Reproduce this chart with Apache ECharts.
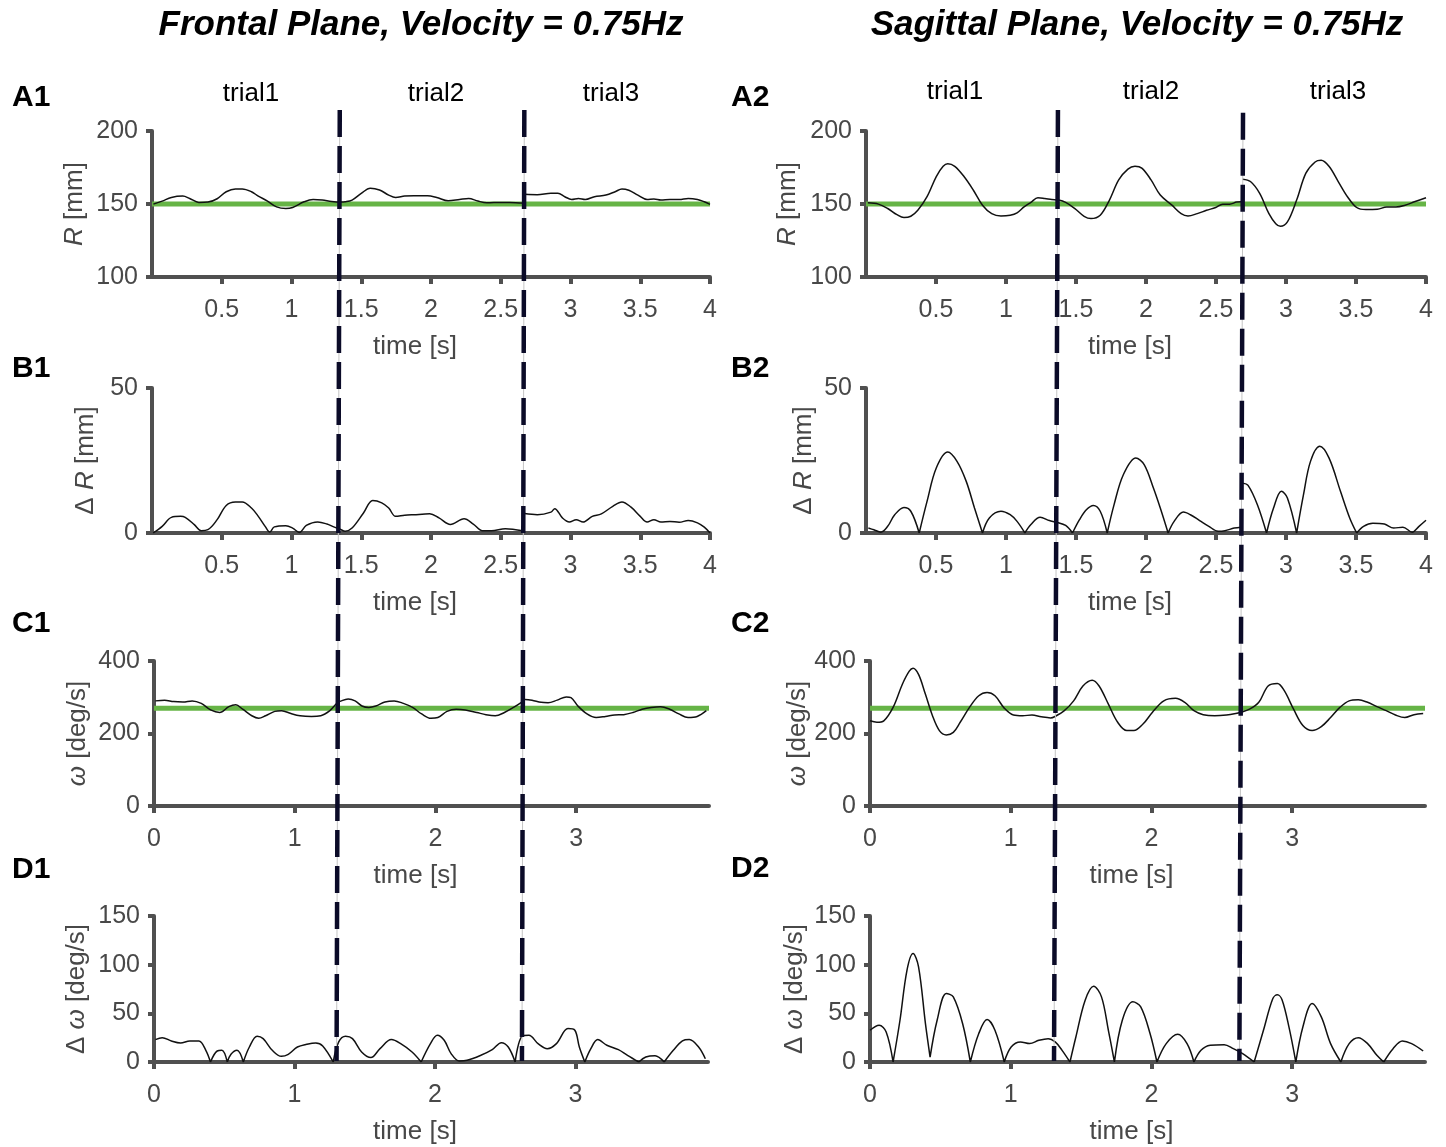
<!DOCTYPE html>
<html>
<head>
<meta charset="utf-8">
<script src="https://cdn.jsdelivr.net/npm/echarts@6/dist/echarts.min.js"></script>
<style>html,body{margin:0;padding:0;background:#fff}#c{width:1446px;height:1147px}</style>
</head>
<body>
<div id="c"></div>
<script>
// ---------------- DATA (time [s], value) ----------------
const a1 = [[0.01,149.9],[0.073,152.0],[0.139,154.5],[0.221,155.4],[0.270,153.8],[0.336,151.1],[0.401,151.3],[0.467,153.6],[0.532,158.4],[0.598,160.3],
 [0.647,160.3],[0.713,158.4],[0.762,155.4],[0.828,152.0],[0.893,148.0],[0.959,146.9],[1.008,147.6],[1.090,151.5],[1.155,153.1],[1.221,152.7],
 [1.287,151.7],[1.352,151.3],[1.385,151.5],[1.434,152.7],[1.500,157.3],[1.565,160.8],[1.631,159.6],[1.697,156.1],[1.746,154.5],[1.811,155.4],
 [1.877,155.7],[1.975,155.7],[2.041,154.5],[2.123,152.2],[2.205,153.1],[2.270,153.8],[2.336,152.0],[2.401,150.8],[2.500,151.1],[2.565,151.1],
 [2.664,150.6],[2.667,null],[2.670,156.6],[2.762,156.4],[2.860,157.3],[2.910,157.3],[2.959,155.0],[3.008,153.1],[3.057,153.8],[3.106,153.1],
 [3.172,155.0],[3.254,156.1],[3.320,158.4],[3.369,160.3],[3.418,159.4],[3.483,156.1],[3.549,153.1],[3.598,153.4],[3.648,152.7],[3.713,153.1],
 [3.779,153.1],[3.844,153.8],[3.910,153.1],[3.959,151.5],[4.0,149.7]];

const b1 = [[0.008,0],[0.073,2.3],[0.139,5.4],[0.205,5.75],[0.238,5.4],[0.303,2.9],[0.352,0.8],[0.401,1.15],[0.467,4.6],[0.532,9.5],
 [0.598,10.7],[0.647,10.7],[0.713,8.6],[0.762,5.75],[0.811,2.3],[0.844,0.35],[0.877,2.1],[0.959,2.5],[1.008,1.7],[1.057,0.2],
 [1.106,2.6],[1.188,3.8],[1.254,3.1],[1.303,2.1],[1.345,1.4],[1.385,0.6],[1.434,1.7],[1.516,6.9],[1.582,11.2],[1.647,10.4],
 [1.697,8.6],[1.746,5.75],[1.811,6.1],[1.877,6.3],[1.991,6.6],[2.057,5.2],[2.139,2.9],[2.237,4.9],[2.303,3.1],[2.369,0.8],
 [2.434,0.8],[2.533,1.5],[2.657,0.8],[2.663,null],[2.670,6.7],[2.762,6.3],[2.860,7.2],[2.887,8.4],[2.942,5.2],[2.992,3.8],
 [3.041,4.6],[3.090,3.8],[3.156,5.75],[3.221,6.6],[3.303,9.2],[3.369,10.7],[3.434,8.9],[3.500,5.75],[3.549,3.8],[3.598,4.6],
 [3.648,3.8],[3.713,4.0],[3.779,3.7],[3.844,4.3],[3.910,3.5],[3.959,2.0],[4.0,0]];

const c1 = [[0.010,290],[0.075,292],[0.140,288],[0.206,287],[0.271,290],[0.336,283],[0.402,265],[0.467,258],[0.532,274],[0.581,279],
 [0.630,267],[0.695,249],[0.744,242],[0.793,249],[0.858,261],[0.907,263],[0.973,255],[1.038,249],[1.119,247],[1.185,249],
 [1.250,263],[1.299,283],[1.331,290],[1.380,295],[1.429,290],[1.478,276],[1.527,272],[1.576,276],[1.641,287],[1.707,290],
 [1.772,283],[1.837,272],[1.902,254],[1.968,242],[2.017,244],[2.082,261],[2.147,267],[2.212,265],[2.294,258],[2.359,252],
 [2.425,249],[2.490,258],[2.555,272],[2.611,286],[2.637,294],[2.686,292],[2.751,286],[2.800,285],[2.865,292],[2.930,301],
 [2.963,299],[3.012,276],[3.077,254],[3.142,244],[3.208,247],[3.273,251],[3.338,252],[3.404,258],[3.469,267],[3.534,272],
 [3.600,274],[3.665,267],[3.730,254],[3.795,244],[3.860,247],[3.925,263]];

const d1 = [[0.010,23],[0.059,25],[0.124,21.6],[0.189,19.6],[0.255,21.6],[0.320,21.6],[0.369,12],[0.402,0],[0.402,null],[0.402,0],
 [0.450,11.3],[0.483,12],[0.522,0],[0.522,null],[0.522,0],[0.548,7.9],[0.591,12],[0.636,0],[0.636,null],[0.636,0],
 [0.679,15.4],[0.734,26.4],[0.777,24],[0.842,12],[0.907,5.8],[0.956,7.9],[1.021,15.4],[1.087,18.2],[1.152,19.6],[1.201,16.5],
 [1.276,0],[1.276,null],[1.276,0],[1.315,20.6],[1.364,26.4],[1.413,24],[1.478,10.3],[1.544,4.5],[1.609,13.7],[1.690,23],
 [1.756,18.9],[1.837,10.3],[1.902,0],[1.902,null],[1.902,0],[1.968,18.9],[2.017,27.5],[2.066,22.3],[2.115,8.6],[2.173,1],
 [2.229,1.7],[2.327,6.9],[2.408,12.7],[2.473,19.9],[2.522,15.4],[2.571,0],[2.571,null],[2.571,0],[2.620,26.4],[2.669,27.5],
 [2.734,18.9],[2.800,13.7],[2.865,18.9],[2.947,34.3],[2.996,32.6],[3.028,15.4],[3.067,0],[3.067,null],[3.067,0],[3.110,13.7],
 [3.159,23],[3.224,17.2],[3.306,12.7],[3.371,6.9],[3.452,0],[3.452,null],[3.452,0],[3.501,5.1],[3.567,6.5],[3.632,0],
 [3.632,null],[3.632,0],[3.697,12],[3.762,21.6],[3.811,23],[3.877,15.4],[3.925,3.4]];

const a2 = [[0.013,150.8],[0.089,149.9],[0.155,146.9],[0.221,142.7],[0.271,140.7],[0.320,141.6],[0.370,145.7],[0.436,155.0],[0.502,168.8],[0.551,175.8],
 [0.584,177.6],[0.634,175.8],[0.700,168.8],[0.766,159.6],[0.832,149.2],[0.898,143.4],[0.964,141.8],[1.030,142.3],[1.079,143.9],[1.129,148.0],
 [1.178,151.1],[1.228,154.3],[1.277,153.8],[1.327,153.1],[1.376,152.7],[1.426,151.1],[1.492,146.9],[1.558,141.6],[1.607,140.0],[1.673,142.3],
 [1.739,152.7],[1.805,166.5],[1.871,173.9],[1.921,175.8],[1.970,174.6],[2.036,166.5],[2.102,156.1],[2.185,149.2],[2.251,143.4],[2.300,141.8],
 [2.366,143.4],[2.432,145.7],[2.498,147.6],[2.548,149.9],[2.597,149.9],[2.647,151.3],[2.680,151.5],[2.685,null],[2.690,167.0],[2.746,165.4],
 [2.812,157.3],[2.878,143.4],[2.927,136.5],[2.960,134.7],[3.010,137.7],[3.076,152.7],[3.142,171.1],[3.208,178.8],[3.251,179.9],[3.307,175.8],
 [3.373,165.4],[3.439,155.0],[3.505,147.6],[3.571,146.2],[3.653,146.4],[3.719,148.0],[3.785,148.0],[3.851,149.2],[3.917,151.5],[4.0,154.3]];

const b2 = [[0.017,1.7],[0.056,1.1],[0.106,0.3],[0.155,2.3],[0.205,6.3],[0.271,8.8],[0.320,7.5],[0.380,0],[0.380,null],[0.380,0],
 [0.436,10.9],[0.502,22.4],[0.584,27.9],[0.650,24.7],[0.716,17.8],[0.775,8.6],[0.832,0],[0.832,null],[0.832,0],[0.881,5.2],
 [0.964,7.5],[1.030,6.3],[1.079,4.0],[1.135,0],[1.135,null],[1.135,0],[1.178,2.9],[1.244,5.4],[1.310,4.3],[1.360,3.7],
 [1.426,2.6],[1.475,0],[1.475,null],[1.475,0],[1.525,4.6],[1.574,8.0],[1.624,9.5],[1.673,7.5],[1.723,0],[1.723,null],
 [1.723,0],[1.772,9.8],[1.838,20.1],[1.927,25.9],[1.987,23.6],[2.053,15.5],[2.102,8.6],[2.158,0],[2.158,null],[2.158,0],
 [2.201,4.0],[2.267,7.2],[2.317,6.3],[2.383,4.3],[2.449,2.3],[2.515,0.6],[2.564,0.8],[2.630,1.7],[2.680,2.0],[2.685,null],
 [2.690,17.2],[2.729,16.4],[2.795,9.8],[2.861,0],[2.861,null],[2.861,0],[2.911,8.6],[2.967,14.4],[3.010,12.1],[3.076,0],
 [3.076,null],[3.076,0],[3.125,13.2],[3.175,24.7],[3.241,29.9],[3.307,25.9],[3.389,14.4],[3.455,5.2],[3.505,0],[3.505,null],
 [3.505,0],[3.554,2.3],[3.620,3.4],[3.703,3.1],[3.769,1.7],[3.835,2.0],[3.901,0.3],[3.950,2.3],[4.0,4.4]];

const c2 = [[0.0,235],[0.049,231],[0.098,235],[0.164,272],[0.230,336],[0.279,372],[0.306,380],[0.345,363],[0.394,308],[0.444,249],
 [0.493,208],[0.542,196],[0.592,203],[0.641,231],[0.707,272],[0.773,304],[0.832,313],[0.888,304],[0.954,270],[1.019,251],
 [1.085,249],[1.151,251],[1.217,246],[1.283,243],[1.315,247],[1.381,263],[1.447,290],[1.513,331],[1.579,347],[1.628,331],
 [1.694,281],[1.760,231],[1.825,208],[1.875,208],[1.940,226],[2.006,258],[2.088,290],[2.171,297],[2.237,286],[2.302,263],
 [2.368,252],[2.450,249],[2.533,251],[2.599,255],[2.631,258],[2.697,267],[2.763,286],[2.829,331],[2.895,338],[2.944,318],
 [3.010,267],[3.076,222],[3.142,208],[3.207,219],[3.273,244],[3.339,272],[3.405,290],[3.470,293],[3.536,286],[3.602,274],
 [3.668,263],[3.734,251],[3.800,244],[3.866,252],[3.931,255]];

const d2 = [[0.0,32.6],[0.065,37.8],[0.115,30.9],[0.164,0],[0.164,null],[0.164,0],[0.213,42.9],[0.263,94.4],[0.306,111.5],[0.345,97.8],
 [0.394,39.5],[0.427,5.1],[0.427,null],[0.427,5.1],[0.477,42.9],[0.542,70.4],[0.592,66.9],[0.658,39.5],[0.713,0],[0.713,null],
 [0.713,0],[0.773,29.2],[0.832,43.6],[0.888,32.6],[0.954,0],[0.954,null],[0.954,0],[1.003,15.4],[1.069,20.6],[1.135,18.9],
 [1.200,22.3],[1.266,24],[1.316,20.6],[1.365,12],[1.421,0],[1.421,null],[1.421,0],[1.463,25.7],[1.529,63.5],[1.589,77.9],
 [1.645,66.9],[1.694,32.6],[1.737,0],[1.737,null],[1.737,0],[1.793,42.9],[1.868,61.8],[1.924,56.6],[1.990,29.2],[2.039,0],
 [2.039,null],[2.039,0],[2.105,18.9],[2.187,28.5],[2.253,18.9],[2.302,0],[2.302,null],[2.302,0],[2.352,12],[2.418,17.2],
 [2.517,17.8],[2.582,13.7],[2.648,8.6],[2.730,0],[2.730,null],[2.730,0],[2.796,32.6],[2.862,65],[2.895,69],[2.928,64],
 [2.977,36],[3.026,0],[3.026,null],[3.026,0],[3.076,36],[3.142,60],[3.207,46.3],[3.273,18.9],[3.346,0],[3.346,null],
 [3.346,0],[3.405,18.9],[3.470,25],[3.536,18.9],[3.602,6.9],[3.651,0],[3.651,null],[3.651,0],[3.717,13.7],[3.783,21.6],
 [3.849,18.9],[3.931,11.3]];

// reference (desired) values
const refR = 150;      // mm
const refOmega = 270;  // deg/s

// tick values
const xTicksA = [0.5, 1, 1.5, 2, 2.5, 3, 3.5, 4];
const xTicksC = [0, 1, 2, 3];

// trial divider lines (time in the A-panel time scale; y 1 = top, 0 = bottom)
const divLeft1 = [[1.346, 1], [1.323, 0]];
const divLeft2 = [[2.669, 1], [2.652, 0]];
const divRight1 = [[1.371, 1], [1.343, 0]];
const divRight2 = [[2.693, 0.997], [2.667, 0]];

// ---------------- STYLE / LAYOUT ----------------
const FONT = "'Liberation Sans', Arial, Helvetica, sans-serif";
const AXIS = '#505050', LABEL = '#484848', GREEN = '#66b446', INK = '#111111', DASH = '#0b0b28';

const X_A = {min: 0, max: 4, interval: 0.5, ticks: xTicksA};
const X_C = {min: 0, max: 3.944, interval: 1, ticks: xTicksC};

const panels = [
  {grid: {left: 152, top: 131, width: 558, height: 146}, x: X_A, y: {min: 100, max: 200, interval: 50}, name: '{it|R} [mm]', gap: 64, data: a1, ref: refR},
  {grid: {left: 152, top: 388, width: 558, height: 145}, x: X_A, y: {min: 0, max: 50, interval: 50}, name: 'Δ {it|R} [mm]', gap: 53, data: b1},
  {grid: {left: 154, top: 661, width: 555, height: 145}, x: X_C, y: {min: 0, max: 400, interval: 200}, name: '{it|ω} [deg/s]', gap: 63, data: c1, ref: refOmega},
  {grid: {left: 154, top: 916, width: 554, height: 146}, x: X_C, y: {min: 0, max: 150, interval: 50}, name: 'Δ {it|ω} [deg/s]', gap: 64, data: d1},
  {grid: {left: 866, top: 131, width: 560, height: 146}, x: X_A, y: {min: 100, max: 200, interval: 50}, name: '{it|R} [mm]', gap: 65, data: a2, ref: refR},
  {grid: {left: 866, top: 388, width: 560, height: 145}, x: X_A, y: {min: 0, max: 50, interval: 50}, name: 'Δ {it|R} [mm]', gap: 49, data: b2},
  {grid: {left: 870, top: 661, width: 555, height: 145}, x: X_C, y: {min: 0, max: 400, interval: 200}, name: '{it|ω} [deg/s]', gap: 58, data: c2, ref: refOmega},
  {grid: {left: 870, top: 916, width: 555, height: 146}, x: X_C, y: {min: 0, max: 150, interval: 50}, name: 'Δ {it|ω} [deg/s]', gap: 62, data: d2},
];

const grid = [], xAxis = [], yAxis = [], series = [];
const lineAx = {show: true, onZero: false, lineStyle: {color: AXIS, width: 4}};

panels.forEach((p, i) => {
  grid.push(Object.assign({containLabel: false}, p.grid));
  xAxis.push({
    type: 'value', gridIndex: i, position: 'bottom',
    min: p.x.min, max: p.x.max, interval: p.x.interval,
    name: 'time [s]', nameLocation: 'middle', nameGap: 57,
    nameTextStyle: {fontFamily: FONT, fontSize: 26, color: LABEL, padding: [0, 32, 0, 0]},
    axisLine: lineAx,
    axisTick: {show: true, length: 7, customValues: p.x.ticks, lineStyle: {color: AXIS, width: 4}},
    axisLabel: {show: true, customValues: p.x.ticks, margin: 21, fontFamily: FONT, fontSize: 25, color: LABEL,
      formatter: v => (p.x.ticks.some(t => Math.abs(t - v) < 1e-6) ? String(v) : '')},
    splitLine: {show: false}
  });
  yAxis.push({
    type: 'value', gridIndex: i, position: 'left',
    min: p.y.min, max: p.y.max, interval: p.y.interval,
    name: p.name, nameLocation: 'middle', nameGap: p.gap,
    nameTextStyle: {fontFamily: FONT, fontSize: 26, color: LABEL,
      rich: {it: {fontFamily: FONT, fontSize: 26, color: LABEL, fontStyle: 'italic'}}},
    axisLine: lineAx,
    axisTick: {show: true, length: 6, lineStyle: {color: AXIS, width: 4}},
    axisLabel: {show: true, margin: 14, fontFamily: FONT, fontSize: 25, color: LABEL},
    splitLine: {show: false}
  });
  if (p.ref !== undefined) {
    series.push({type: 'line', xAxisIndex: i, yAxisIndex: i, data: [[p.x.min, p.ref], [p.x.max, p.ref]],
      symbol: 'none', silent: true, lineStyle: {color: GREEN, width: 5}, z: 2});
  }
  series.push({type: 'line', xAxisIndex: i, yAxisIndex: i, data: p.data, smooth: 0.35, connectNulls: false,
    symbol: 'none', silent: true, lineStyle: {color: INK, width: 1.5}, z: 3});
});

// overlay grids for the trial dividers
const overlays = [
  {grid: {left: 152, top: 110, width: 558, height: 951}, lines: [divLeft1, divLeft2]},
  {grid: {left: 866, top: 110, width: 560, height: 951}, lines: [divRight1, divRight2]},
];
overlays.forEach((o, k) => {
  const gi = panels.length + k;
  grid.push(Object.assign({containLabel: false}, o.grid));
  xAxis.push({type: 'value', gridIndex: gi, min: 0, max: 4, show: false});
  yAxis.push({type: 'value', gridIndex: gi, min: 0, max: 1, show: false});
  o.lines.forEach(d => {
    series.push({type: 'line', xAxisIndex: gi, yAxisIndex: gi, data: d, symbol: 'none', silent: true,
      lineStyle: {color: '#c4c4c4', width: 1}, z: 8});
    series.push({type: 'line', xAxisIndex: gi, yAxisIndex: gi, data: d, symbol: 'none', silent: true,
      lineStyle: {color: DASH, width: 4.5, type: [27, 9]}, z: 9});
  });
});

function txt(text, x, y, font, align) {
  return {type: 'text', x: x, y: y, z: 20, silent: true,
    style: {text: text, font: font, fill: '#000', align: align || 'center', verticalAlign: 'middle',
      textAlign: align || 'center', textVerticalAlign: 'middle'}};
}
const TITLE_FONT = "italic bold 35px " + FONT;
const LETTER_FONT = "bold 30px " + FONT;
const TRIAL_FONT = "26px " + FONT;

const graphic = [
  txt('Frontal Plane, Velocity = 0.75Hz', 421, 25, TITLE_FONT),
  txt('Sagittal Plane, Velocity = 0.75Hz', 1137, 25, TITLE_FONT),
  txt('A1', 12, 98, LETTER_FONT, 'left'), txt('B1', 12, 369, LETTER_FONT, 'left'),
  txt('C1', 12, 624, LETTER_FONT, 'left'), txt('D1', 12, 870, LETTER_FONT, 'left'),
  txt('A2', 731, 98, LETTER_FONT, 'left'), txt('B2', 731, 369, LETTER_FONT, 'left'),
  txt('C2', 731, 624, LETTER_FONT, 'left'), txt('D2', 731, 869, LETTER_FONT, 'left'),
  txt('trial1', 251, 94, TRIAL_FONT), txt('trial2', 436, 94, TRIAL_FONT), txt('trial3', 611, 94, TRIAL_FONT),
  txt('trial1', 955, 92, TRIAL_FONT), txt('trial2', 1151, 92, TRIAL_FONT), txt('trial3', 1338, 92, TRIAL_FONT),
];

const chart = echarts.init(document.getElementById('c'), null, {renderer: 'canvas'});
chart.setOption({
  animation: false,
  backgroundColor: '#ffffff',
  textStyle: {fontFamily: FONT},
  grid, xAxis, yAxis, series, graphic
});
</script>
</body>
</html>
